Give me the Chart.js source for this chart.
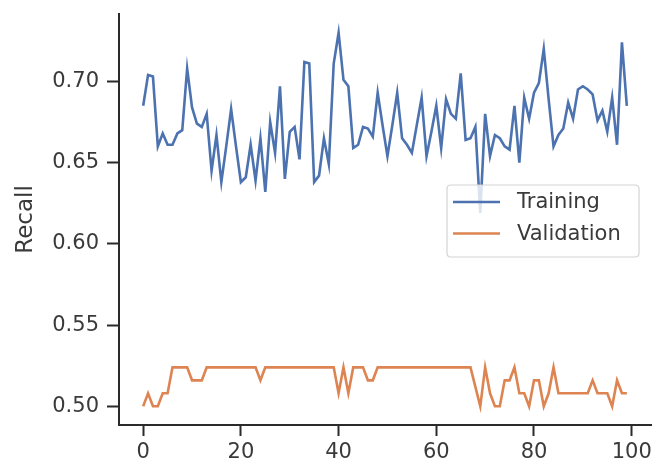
<!DOCTYPE html>
<html>
<head>
<meta charset="utf-8">
<script src="https://cdn.jsdelivr.net/npm/chart.js@4/dist/chart.umd.min.js"></script>
<style>
  html, body { margin: 0; padding: 0; background: #ffffff; }
  #wrap { width: 664px; height: 464px; position: relative; }
</style>
</head>
<body>
<div id="wrap"><canvas id="c"></canvas></div>
<script>
// ---- data ----
const epochs = Array.from({ length: 100 }, (_, i) => i);

const trainingRecall = [
  0.685, 0.704, 0.703, 0.660, 0.668, 0.661, 0.661, 0.668, 0.670, 0.708,
  0.684, 0.674, 0.672, 0.680, 0.645, 0.667, 0.638, 0.660, 0.683, 0.660,
  0.638, 0.641, 0.661, 0.639, 0.665, 0.632, 0.675, 0.656, 0.697, 0.640,
  0.669, 0.672, 0.652, 0.712, 0.711, 0.638, 0.642, 0.665, 0.649, 0.711,
  0.730, 0.701, 0.697, 0.659, 0.661, 0.672, 0.671, 0.666, 0.693, 0.673,
  0.654, 0.673, 0.693, 0.665, 0.661, 0.656, 0.673, 0.690, 0.654, 0.669,
  0.685, 0.659, 0.689, 0.680, 0.677, 0.705, 0.664, 0.665, 0.672, 0.619,
  0.680, 0.654, 0.667, 0.665, 0.660, 0.658, 0.685, 0.650, 0.690, 0.677,
  0.693, 0.699, 0.720, 0.689, 0.660, 0.667, 0.671, 0.687, 0.677, 0.695,
  0.697, 0.695, 0.692, 0.676, 0.682, 0.669, 0.690, 0.661, 0.724, 0.685
];

const validationRecall = [
  0.500, 0.508, 0.500, 0.500, 0.508, 0.508, 0.524, 0.524, 0.524, 0.524,
  0.516, 0.516, 0.516, 0.524, 0.524, 0.524, 0.524, 0.524, 0.524, 0.524,
  0.524, 0.524, 0.524, 0.524, 0.516, 0.524, 0.524, 0.524, 0.524, 0.524,
  0.524, 0.524, 0.524, 0.524, 0.524, 0.524, 0.524, 0.524, 0.524, 0.524,
  0.508, 0.524, 0.508, 0.524, 0.524, 0.524, 0.516, 0.516, 0.524, 0.524,
  0.524, 0.524, 0.524, 0.524, 0.524, 0.524, 0.524, 0.524, 0.524, 0.524,
  0.524, 0.524, 0.524, 0.524, 0.524, 0.524, 0.524, 0.524, 0.512, 0.500,
  0.524, 0.508, 0.500, 0.500, 0.516, 0.516, 0.524, 0.508, 0.508, 0.500,
  0.516, 0.516, 0.500, 0.508, 0.524, 0.508, 0.508, 0.508, 0.508, 0.508,
  0.508, 0.508, 0.516, 0.508, 0.508, 0.508, 0.500, 0.516, 0.508, 0.508
];

const seriesNames = ['Training', 'Validation'];
const xTickValues = [0, 20, 40, 60, 80, 100];
const yTickValues = [0.50, 0.55, 0.60, 0.65, 0.70];
const yAxisTitle = 'Recall';

// ---- chart ----
const FONT = "'DejaVu Sans', 'Liberation Sans', sans-serif";
const TEXT = '#3a3a3a';
const AXIS = '#2b2b2b';

const toPoints = (vals) => vals.map((v, i) => ({ x: epochs[i], y: v }));

const legendBox = {
  id: 'legendBox',
  afterDatasetsDraw(chart) {
    const ctx = chart.ctx;
    const bx = 447, by = 185, bw = 192, bh = 72, r = 4;
    ctx.save();
    ctx.beginPath();
    ctx.moveTo(bx + r, by);
    ctx.lineTo(bx + bw - r, by);
    ctx.quadraticCurveTo(bx + bw, by, bx + bw, by + r);
    ctx.lineTo(bx + bw, by + bh - r);
    ctx.quadraticCurveTo(bx + bw, by + bh, bx + bw - r, by + bh);
    ctx.lineTo(bx + r, by + bh);
    ctx.quadraticCurveTo(bx, by + bh, bx, by + bh - r);
    ctx.lineTo(bx, by + r);
    ctx.quadraticCurveTo(bx, by, bx + r, by);
    ctx.closePath();
    ctx.fillStyle = 'rgba(255,255,255,0.8)';
    ctx.fill();
    ctx.lineWidth = 1.2;
    ctx.strokeStyle = '#d4d4d4';
    ctx.stroke();
    chart.data.datasets.forEach((ds, k) => {
      const y = 202 + k * 31.5;
      ctx.beginPath();
      ctx.moveTo(453, y);
      ctx.lineTo(500, y);
      ctx.lineWidth = 2.6;
      ctx.strokeStyle = ds.borderColor;
      ctx.stroke();
      ctx.fillStyle = TEXT;
      ctx.font = '21px ' + FONT;
      ctx.textBaseline = 'middle';
      ctx.textAlign = 'left';
      ctx.fillText(ds.label, 517, y + 1);
    });
    ctx.restore();
  }
};

new Chart(document.getElementById('c'), {
  type: 'line',
  data: {
    datasets: [
      {
        label: seriesNames[0],
        data: toPoints(trainingRecall),
        borderColor: '#4c72b0',
        borderWidth: 2.6,
        pointRadius: 0,
        tension: 0,
        fill: false
      },
      {
        label: seriesNames[1],
        data: toPoints(validationRecall),
        borderColor: '#dd8452',
        borderWidth: 2.6,
        pointRadius: 0,
        tension: 0,
        fill: false
      }
    ]
  },
  options: {
    responsive: true,
    maintainAspectRatio: false,
    animation: false,
    devicePixelRatio: 1,
    layout: { padding: { left: 0, top: 14, right: 13, bottom: 0 } },
    plugins: {
      legend: { display: false },
      tooltip: { enabled: false },
      title: { display: false }
    },
    scales: {
      x: {
        type: 'linear',
        min: -4.95,
        max: 103.95,
        afterBuildTicks: (axis) => { axis.ticks = xTickValues.map(v => ({ value: v })); },
        afterFit: (scale) => {
          scale.height = 39;
          scale.paddingLeft = 0;
          scale.paddingRight = 0;
        },
        grid: {
          drawOnChartArea: false,
          drawTicks: true,
          tickLength: 11,
          tickWidth: 2,
          tickColor: AXIS
        },
        border: { display: true, color: AXIS, width: 2 },
        ticks: {
          color: TEXT,
          font: { family: FONT, size: 21 },
          padding: 4,
          maxRotation: 0,
          callback: (v) => String(v)
        }
      },
      y: {
        type: 'linear',
        min: 0.4885,
        max: 0.7415,
        afterBuildTicks: (axis) => { axis.ticks = yTickValues.map(v => ({ value: v })); },
        afterFit: (scale) => {
          scale.width = 119;
          scale.paddingTop = 0;
          scale.paddingBottom = 0;
        },
        grid: {
          drawOnChartArea: false,
          drawTicks: true,
          tickLength: 12,
          tickWidth: 2,
          tickColor: AXIS
        },
        border: { display: true, color: AXIS, width: 2 },
        ticks: {
          color: TEXT,
          font: { family: FONT, size: 21 },
          padding: 8,
          callback: (v) => v.toFixed(2)
        },
        title: {
          display: true,
          text: yAxisTitle,
          color: TEXT,
          font: { family: FONT, size: 23 },
          padding: { top: 12, bottom: 0 }
        }
      }
    }
  },
  plugins: [legendBox]
});
</script>
</body>
</html>
